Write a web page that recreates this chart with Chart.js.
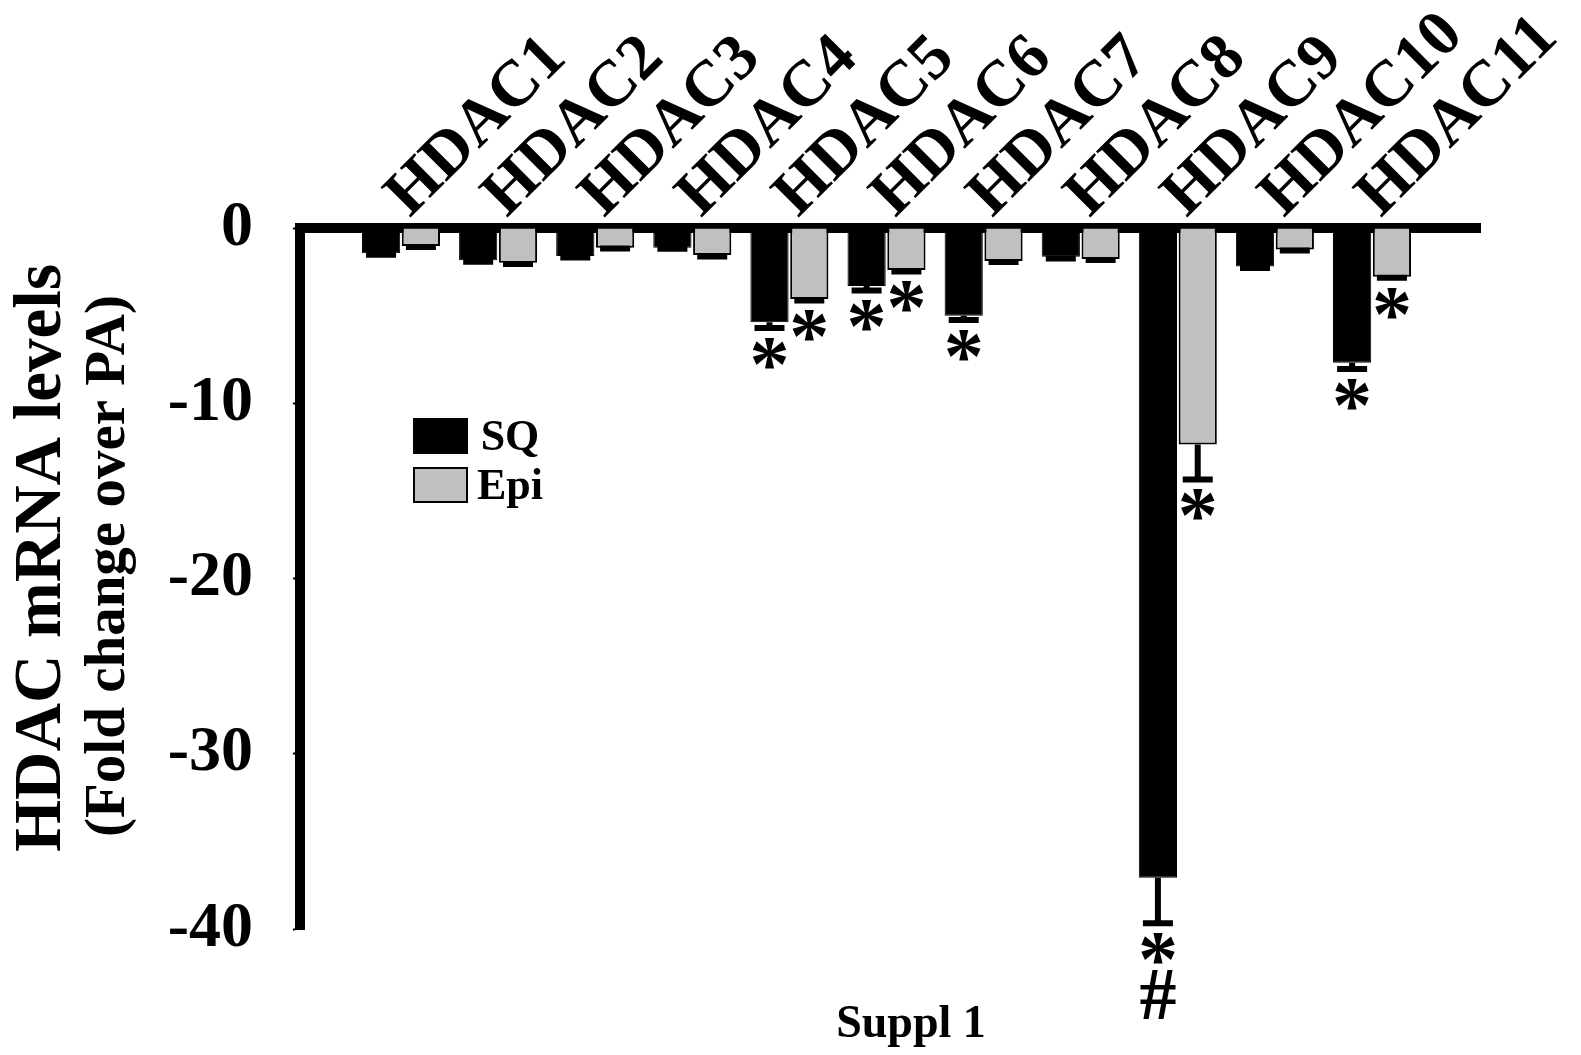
<!DOCTYPE html>
<html>
<head>
<meta charset="utf-8">
<script src="https://cdn.jsdelivr.net/npm/chart.js@4.4.0/dist/chart.umd.min.js"></script>
<style>
  html, body { margin: 0; padding: 0; background: #fff; }
</style>
</head>
<body>
<canvas id="myChart" width="1581" height="1055"></canvas>
<script>
// data
var categories = ['HDAC1', 'HDAC2', 'HDAC3', 'HDAC4', 'HDAC5', 'HDAC6', 'HDAC7', 'HDAC8', 'HDAC9', 'HDAC10', 'HDAC11'];
var sqValues  = [-1.44, -1.84, -1.6, -1.12, -5.38, -3.31, -5.0, -1.64, -37.07, -2.2, -7.69];
var sqErrors  = [0.08, 0.08, 0.08, 0.06, 0.33, 0.25, 0.25, 0.1, 2.6, 0.08, 0.35];
var epiValues = [-1.03, -1.98, -1.12, -1.54, -4.05, -2.4, -1.88, -1.77, -12.35, -1.22, -2.78];
var epiErrors = [0.05, 0.08, 0.05, 0.08, 0.08, 0.08, 0.06, 0.06, 2.0, 0.06, 0.06];
var sqMarks  = ['', '', '', '', '*', '*', '*', '', '*\n#', '', '*'];
var epiMarks = ['', '', '', '', '*', '*', '', '', '*', '', '*'];
var yTicks = [0, -10, -20, -30, -40];
var yTitle = 'HDAC mRNA levels';
var ySubTitle = '(Fold change over PA)';
var xTitle = 'Suppl 1';

var serif = '"Liberation Serif", "Times New Roman", serif';

function toPoints(values) {
    return values.map(function (v, i) { return { x: i + 1, y: v }; });
}

// error bars + significance marks under each bar
var errorBars = {
    id: 'errorBars',
    afterDatasetsDraw: function (chart) {
        var ctx = chart.ctx;
        var yScale = chart.scales.y;
        chart.data.datasets.forEach(function (ds, di) {
            var meta = chart.getDatasetMeta(di);
            meta.data.forEach(function (bar, i) {
                var v = ds.data[i].y;
                var yEnd = yScale.getPixelForValue(v - ds.errors[i]);
                ctx.save();
                ctx.strokeStyle = '#000';
                ctx.lineWidth = 6;
                ctx.beginPath();
                ctx.moveTo(bar.x, bar.y);
                ctx.lineTo(bar.x, yEnd);
                ctx.moveTo(bar.x - 15, yEnd);
                ctx.lineTo(bar.x + 15, yEnd);
                ctx.stroke();
                var marks = ds.marks[i];
                if (marks) {
                    ctx.fillStyle = '#000';
                    ctx.textAlign = 'center';
                    ctx.textBaseline = 'alphabetic';
                    marks.split('\n').forEach(function (m, k) {
                        if (m === '*') {
                            ctx.font = 'bold 80px ' + serif;
                            ctx.fillText(m, bar.x, yEnd + 63);
                        } else {
                            ctx.font = 'bold 74px ' + serif;
                            ctx.fillText(m, bar.x, yEnd + 62 + k * 34);
                        }
                    });
                }
                ctx.restore();
            });
        });
    }
};

// legend box inside the plot, titles
var extras = {
    id: 'extras',
    afterDraw: function (chart) {
        var ctx = chart.ctx;
        ctx.save();
        // legend
        chart.data.datasets.forEach(function (ds, i) {
            var top = 418 + i * 49;
            ctx.fillStyle = ds.backgroundColor;
            ctx.fillRect(413, top, 55, 36);
            if (ds.borderWidth > 1) {
                ctx.strokeStyle = '#000';
                ctx.lineWidth = 2;
                ctx.strokeRect(414, top + 1, 53, 34);
            }
            ctx.fillStyle = '#000';
            ctx.font = 'bold 44px ' + serif;
            ctx.textAlign = 'center';
            ctx.textBaseline = 'alphabetic';
            ctx.fillText(ds.label, 510, top + 32);
        });
        // y titles
        ctx.textAlign = 'center';
        ctx.textBaseline = 'middle';
        ctx.save();
        ctx.translate(43, 558);
        ctx.rotate(-Math.PI / 2);
        ctx.font = 'bold 67px ' + serif;
        ctx.fillText(yTitle, 0, 0);
        ctx.restore();
        ctx.save();
        ctx.translate(109, 566);
        ctx.rotate(-Math.PI / 2);
        ctx.font = 'bold 57px ' + serif;
        ctx.fillText(ySubTitle, 0, 0);
        ctx.restore();
        // bottom title
        ctx.textBaseline = 'alphabetic';
        ctx.font = 'bold 46px ' + serif;
        ctx.fillText(xTitle, 911, 1037);
        ctx.restore();
    }
};

var ctx = document.getElementById('myChart').getContext('2d');
var myChart = new Chart(ctx, {
    type: 'bar',
    data: {
        datasets: [{
            label: 'SQ',
            data: toPoints(sqValues),
            errors: sqErrors,
            marks: sqMarks,
            backgroundColor: '#000000',
            borderColor: '#000000',
            borderWidth: 1
        }, {
            label: 'Epi',
            data: toPoints(epiValues),
            errors: epiErrors,
            marks: epiMarks,
            backgroundColor: '#c0c0c0',
            borderColor: '#000000',
            borderWidth: 2
        }]
    },
    options: {
        responsive: false,
        animation: false,
        categoryPercentage: 0.82,
        barPercentage: 0.96,
        layout: { padding: { top: 0, left: 0, right: 101, bottom: 126 } },
        plugins: {
            legend: { display: false },
            tooltip: { enabled: false }
        },
        scales: {
            x: {
                type: 'linear',
                position: 'top',
                offset: false,
                bounds: 'data',
                min: -0.04,
                max: 12.112,
                grid: { display: false, offset: false },
                border: { display: true, color: '#000', width: 10 },
                afterBuildTicks: function (axis) {
                    axis.ticks = categories.map(function (c, i) { return { value: i + 1 }; });
                },
                afterFit: function (axis) {
                    axis.height = 228;
                    axis.paddingLeft = 0;
                    axis.paddingRight = 0;
                },
                ticks: {
                    autoSkip: false,
                    minRotation: 45,
                    maxRotation: 45,
                    padding: -14,
                    labelOffset: 52,
                    color: '#000',
                    font: { family: serif, weight: 'bold', size: 65 },
                    callback: function (value) { return categories[value - 1]; }
                }
            },
            y: {
                min: -40,
                max: 0,
                afterBuildTicks: function (axis) {
                    axis.ticks = yTicks.map(function (v) { return { value: v }; });
                },
                afterFit: function (axis) { axis.width = 300; },
                grid: { display: true, drawOnChartArea: false, tickLength: 7, tickWidth: 2, tickColor: '#000' },
                border: { display: true, color: '#000', width: 10 },
                ticks: {
                    padding: 40,
                    color: '#000',
                    font: { family: serif, weight: 'bold', size: 64 }
                }
            }
        }
    },
    plugins: [errorBars, extras]
});
</script>
</body>
</html>
